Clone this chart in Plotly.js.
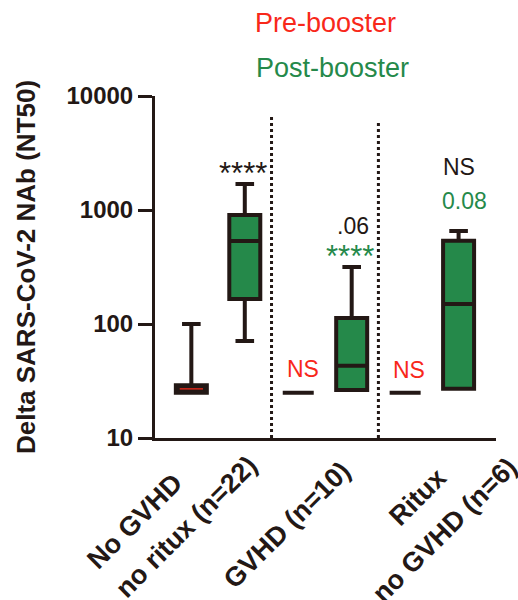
<!DOCTYPE html>
<html>
<head>
<meta charset="utf-8">
<script src="https://cdn.plot.ly/plotly-3.0.1.min.js"></script>
<style>html,body{margin:0;padding:0;background:#fff;}#chart{width:518px;height:600px;}</style>
</head>
<body>
<div id="chart"></div>
<script>
// ---- data ----
var categories = ["No GVHD<br>no ritux (n=22)", "GVHD (n=10)", "Ritux<br>no GVHD (n=6)"];

var preLower  = [25, 25, 25];
var preQ1     = [25, 25, 25];
var preMedian = [27, 25, 25];
var preQ3     = [29, 25, 25];
var preUpper  = [100, 25, 25];

var postLower  = [71, 26.4, 27];
var postQ1     = [166, 26.4, 27];
var postMedian = [535, 43, 150];
var postQ3     = [903, 113, 538];
var postUpper  = [1690, 316, 655];

var preSig  = ["", "NS", "NS"];
var postSig = ["****", "****", "0.08"];
var postSigColor = ["dark", "green", "green"];
var topSig  = ["", ".06", "NS"];

var yTickVals = [10, 100, 1000, 10000];
var yTickText = ["10", "100", "1000", "10000"];

// ---- style ----
var DARK = "#231815", GREEN = "#25894a", RED = "#f8281a";
var FONT = "Liberation Sans, Arial, sans-serif";
var OFF = 0.25, BW = 0.29;
var XR = [-0.59, 2.6];
function toPaperX(v){ return (v - XR[0]) / (XR[1] - XR[0]); }
var idx = categories.map(function(c, i){ return i; });
var preX = idx.map(function(i){ return i - OFF; });
var postX = idx.map(function(i){ return i + OFF; });

var preTrace = {
  type: "box", name: "Pre-booster", x: preX,
  q1: preQ1, median: preMedian, q3: preQ3, lowerfence: preLower, upperfence: preUpper,
  width: BW, whiskerwidth: 0.6, boxpoints: false,
  line: {color: DARK, width: 4}, fillcolor: DARK, hoverinfo: "skip"
};
var redMed = preMedian.map(function(m, i){ return m > preQ1[i] ? m : null; });
var preMedTrace = {
  type: "box", name: "Pre median", x: preX,
  q1: redMed, median: redMed, q3: redMed, lowerfence: redMed, upperfence: redMed,
  width: BW * 0.75, whiskerwidth: 0, boxpoints: false,
  line: {color: RED, width: 1.2}, fillcolor: "rgba(0,0,0,0)", hoverinfo: "skip"
};
var postTrace = {
  type: "box", name: "Post-booster", x: postX,
  q1: postQ1, median: postMedian, q3: postQ3, lowerfence: postLower, upperfence: postUpper,
  width: BW, whiskerwidth: 0.6, boxpoints: false,
  line: {color: DARK, width: 4}, fillcolor: GREEN, hoverinfo: "skip"
};

var ann = [];
function txt(t, x, y, color, size, xref, xanchor){
  ann.push({text: t, x: x, y: y, xref: xref || "x", yref: "paper", showarrow: false,
    xanchor: xanchor || "center", yanchor: "middle",
    font: {family: FONT, size: size, color: color}});
}
// significance labels
var preSigY = [0.2, 0.202, 0.2];
var postSigY = [0.772, 0.53, 0.693];
var postSigDx = [-0.016, -0.016, 0.058];
var topSigY = [0, 0.62, 0.792];
var topSigDx = [0, 0.012, 0.002];
idx.forEach(function(i){
  if (preSig[i]) txt(preSig[i], i - 0.21, preSigY[i], RED, 23);
  if (postSig[i]) txt(postSig[i], i + OFF + postSigDx[i], postSigY[i],
    postSigColor[i] === "green" ? GREEN : DARK, postSig[i].charAt(0) === "*" ? 31 : 23);
  if (topSig[i]) txt(topSig[i], i + OFF + topSigDx[i], topSigY[i], DARK, 23);
});
// legend-like titles
txt("Pre-booster", 0.5, 1.213, RED, 27, "paper", "center");
txt("Post-booster", 0.29, 1.083, GREEN, 27, "paper", "left");

// x category labels (rotated)
var lineDx = [[-0.776, -0.299], [-0.355], [-0.131, 0.121]];
var lineY  = [[-0.243, -0.260], [-0.254], [-0.173, -0.269]];
categories.forEach(function(c, i){
  c.split("<br>").forEach(function(line, j){
    ann.push({text: "<b>" + line + "</b>", x: toPaperX(i + lineDx[i][j]), y: lineY[i][j],
      xref: "paper", yref: "paper",
      showarrow: false, textangle: -45, xanchor: "center", yanchor: "middle",
      font: {family: FONT, size: 27, color: DARK}});
  });
});

var shapes = [
  {type: "line", xref: "x", yref: "paper", x0: 0.5, x1: 0.5, y0: 0, y1: 0.944,
   line: {color: DARK, width: 3, dash: "dot"}},
  {type: "line", xref: "x", yref: "paper", x0: 1.5, x1: 1.5, y0: 0, y1: 0.921,
   line: {color: DARK, width: 3, dash: "dot"}}
];

var layout = {
  width: 518, height: 600,
  margin: {l: 155, r: 22, t: 96, b: 162, pad: 0},
  paper_bgcolor: "#fff", plot_bgcolor: "#fff",
  showlegend: false, boxmode: "overlay",
  font: {family: FONT, color: DARK},
  xaxis: {range: XR, showgrid: false, zeroline: false, showline: true,
    linecolor: DARK, linewidth: 3, ticks: "", showticklabels: false, fixedrange: true},
  yaxis: {type: "log", range: [1, 4], tickvals: yTickVals, ticktext: yTickText,
    showgrid: false, zeroline: false, showline: true, linecolor: DARK, linewidth: 3,
    ticks: "outside", ticklen: 14, tickwidth: 3, tickcolor: DARK,
    tickfont: {family: FONT, size: 24, weight: "bold", color: DARK},
    title: {text: "Delta SARS-CoV-2 NAb (NT50)", standoff: 24,
      font: {family: FONT, size: 26, weight: "bold", color: DARK}}},
  annotations: ann,
  shapes: shapes
};

Plotly.newPlot("chart", [preTrace, postTrace, preMedTrace], layout, {staticPlot: true, displayModeBar: false});
</script>
</body>
</html>
